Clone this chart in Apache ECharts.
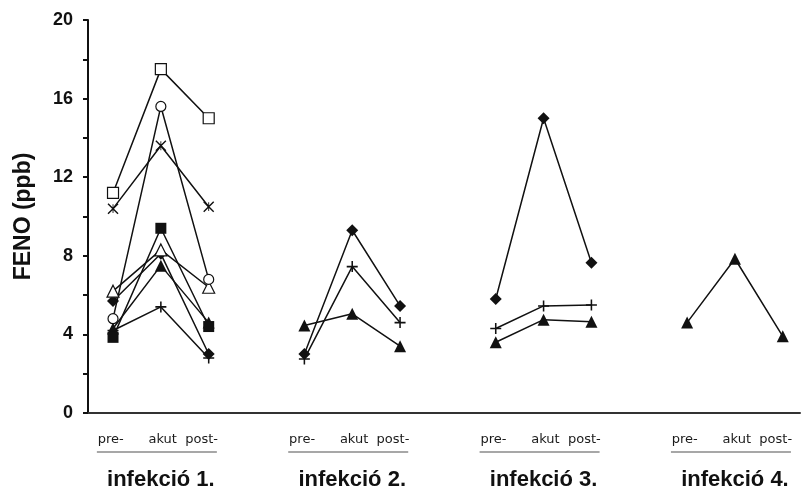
<!DOCTYPE html>
<html>
<head>
<meta charset="utf-8">
<script src="https://cdn.jsdelivr.net/npm/echarts@6/dist/echarts.min.js"></script>
<style>html,body{margin:0;padding:0;background:#fff}#c{width:804px;height:488px}</style>
</head>
<body>
<div id="c"></div>
<script>
const phases = ['pre-', 'akut', 'post-'];
const infections = ['infekció 1.', 'infekció 2.', 'infekció 3.', 'infekció 4.'];
const yTickLabels = [0, 4, 8, 12, 16, 20];

// values per infection: [pre, akut, post]; null = no measurement
const openSquare     = [[11.2, 17.5, 15.0], null, null, null];
const asterisk       = [[10.4, 13.6, 10.5], null, null, null];
const openCircle     = [[4.8, 15.6, 6.8], null, null, null];
const openTriangle   = [[6.2, 8.3, 6.4], null, null, null];
const filledSquare   = [[3.85, 9.4, 4.4], null, null, null];
const filledTriangle = [[4.3, 7.5, 4.6], [4.45, 5.05, 3.4], [3.6, 4.75, 4.65], [4.6, 7.85, 3.9]];
const filledDiamond  = [[5.7, 8.1, 3.0], [3.0, 9.3, 5.45], [5.8, 15.0, 7.65], null];
const plusSign       = [[4.2, 5.4, 2.8], [2.75, 7.45, 4.6], [4.3, 5.45, 5.5], null];

const PLUS = 'path://M4.3,0H5.7V4.3H10V5.7H5.7V10H4.3V5.7H0V4.3H4.3Z';
const STAR = 'path://M0,0.9L0.9,0L10,9.1L9.1,10ZM9.1,0L10,0.9L0.9,10L0,9.1ZM4.6,1H5.4V9H4.6Z';

function toData(vals) {
  const out = [];
  vals.forEach((grp, g) => {
    if (grp) grp.forEach((v, p) => out.push([g * 4 + p, v]));
    out.push([g * 4 + 3, '-']);
  });
  return out;
}

function mk(vals, symbol, size, open) {
  return {
    type: 'line',
    data: toData(vals),
    symbol: symbol,
    symbolSize: size,
    showAllSymbol: true,
    connectNulls: false,
    lineStyle: { color: '#111', width: 1.5 },
    itemStyle: open
      ? { color: '#fff', borderColor: '#111', borderWidth: 1.2 }
      : { color: '#111', borderWidth: 0 },
    emphasis: { disabled: true },
    animation: false
  };
}

const chart = echarts.init(document.getElementById('c'), null, { renderer: 'canvas' });
chart.setOption({
  animation: false,
  backgroundColor: '#fff',
  grid: { left: 88, right: 4, top: 20, bottom: 75, containLabel: false, outerBoundsMode: 'none' },
  xAxis: {
    type: 'value',
    min: -0.523,
    max: 14.36,
    splitLine: { show: false },
    axisTick: { show: false },
    axisLine: { show: true, onZero: false, lineStyle: { color: '#333', width: 2 } },
    axisLabel: {
      show: true,
      customValues: [1, 5, 9, 13],
      margin: 19,
      formatter: function (v) {
        const g = Math.round((v - 1) / 4);
        return '{p|' + phases[0] + '      ' + phases[1] + '  ' + phases[2] + '}\n{u| }{s| }\n{i|' + infections[g] + '}';
      },
      rich: {
        p: { fontFamily: 'DejaVu Sans', fontSize: 13, color: '#1a1a1a', lineHeight: 16, align: 'center', padding: [0, 6, 0, 0] },
        u: { width: 120, height: 1.5, backgroundColor: '#8a8a8a', lineHeight: 8, fontSize: 1, align: 'center' },
        s: { width: 8, height: 1.5, lineHeight: 8, fontSize: 1, align: 'center' },
        i: { fontFamily: 'Liberation Sans', fontWeight: 'bold', fontSize: 22, color: '#111', lineHeight: 48, align: 'center' }
      }
    }
  },
  yAxis: {
    type: 'value',
    min: 0,
    max: 20,
    interval: 2,
    name: 'FENO (ppb)',
    nameLocation: 'middle',
    nameGap: 53,
    nameRotate: 90,
    nameTextStyle: { fontFamily: 'Liberation Sans', fontWeight: 'bold', fontSize: 23, color: '#111' },
    splitLine: { show: false },
    axisLine: { show: true, onZero: false, lineStyle: { color: '#111', width: 2 } },
    axisTick: { show: true, inside: false, length: 5, lineStyle: { color: '#111', width: 2 } },
    axisLabel: {
      margin: 15,
      fontFamily: 'Liberation Sans',
      fontWeight: 'bold',
      fontSize: 18,
      color: '#111',
      formatter: function (v) { return yTickLabels.indexOf(v) >= 0 ? String(v) : ''; }
    }
  },
  series: [
    mk(plusSign, PLUS, 11, false),
    mk(filledTriangle, 'triangle', 12, false),
    mk(filledDiamond, 'diamond', 12, false),
    mk(filledSquare, 'rect', 11, false),
    mk(openTriangle, 'triangle', 12, true),
    mk(openCircle, 'circle', 10, true),
    mk(asterisk, STAR, 11, false),
    mk(openSquare, 'rect', 11, true)
  ]
});
</script>
</body>
</html>
